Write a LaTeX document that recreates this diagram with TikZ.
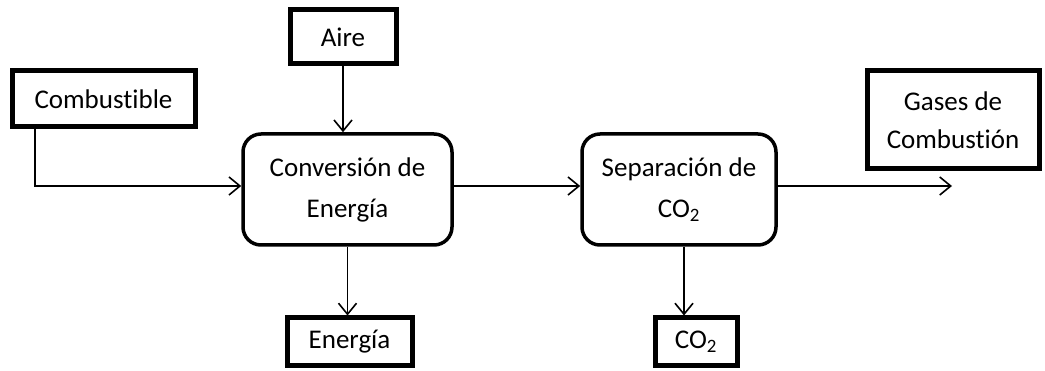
\documentclass[tikz,border=0pt]{standalone}
\usepackage{fontspec}
\setmainfont[Ligatures=NoCommon]{Carlito}
\usetikzlibrary{arrows.meta}
\begin{document}
\begin{tikzpicture}[x=1pt,y=-1pt,
  sqbox/.style={draw,line width=5pt,inner sep=0pt,align=center,font=\fontsize{27}{38}\selectfont},
  rbox/.style={draw,line width=3.5pt,rounded corners=18pt,inner sep=0pt,align=center,font=\fontsize{27}{41}\selectfont},
  arr/.style={line width=1.6pt,-{Straight Barb[length=11pt,width=18pt,line width=1.6pt]}}]
\useasboundingbox (0,0) rectangle (1045,371);
\node[sqbox,minimum width=183pt,minimum height=56pt] (comb) at (103.5,99) {Combustible};
\node[sqbox,minimum width=106pt,minimum height=54pt] (aire) at (343,37) {Aire};
\node[rbox,minimum width=209pt,minimum height=111pt] (conv) at (347.5,189.5) {Conversión de\\Energía};
\node[rbox,minimum width=194pt,minimum height=111pt] (sep) at (679,189.5) {Separación de\\CO\textsubscript{2}};
\node[sqbox,minimum width=172pt,minimum height=98pt] (gas) at (953,120) {Gases de\\Combustión};
\node[sqbox,minimum width=125pt,minimum height=48pt] (ener) at (349.5,342) {Energía};
\node[sqbox,minimum width=82pt,minimum height=48pt] (co2) at (696,342) {CO\textsubscript{2}};
\coordinate (ya) at (0,186);
\coordinate (xc) at (35,0);
\coordinate (xs) at (684,0);
\coordinate (gend) at (952,186);
\draw[arr] (xc |- comb.south) |- (conv.west |- ya);
\draw[arr] (aire.south) -- (aire.south |- conv.north);
\draw[arr] (conv.east |- ya) -- (sep.west |- ya);
\draw[arr] (sep.east |- ya) -- (gend);
\draw[arr] (conv.south) -- (conv.south |- ener.north);
\draw[arr] (xs |- sep.south) -- (xs |- co2.north);
\end{tikzpicture}
\end{document}
